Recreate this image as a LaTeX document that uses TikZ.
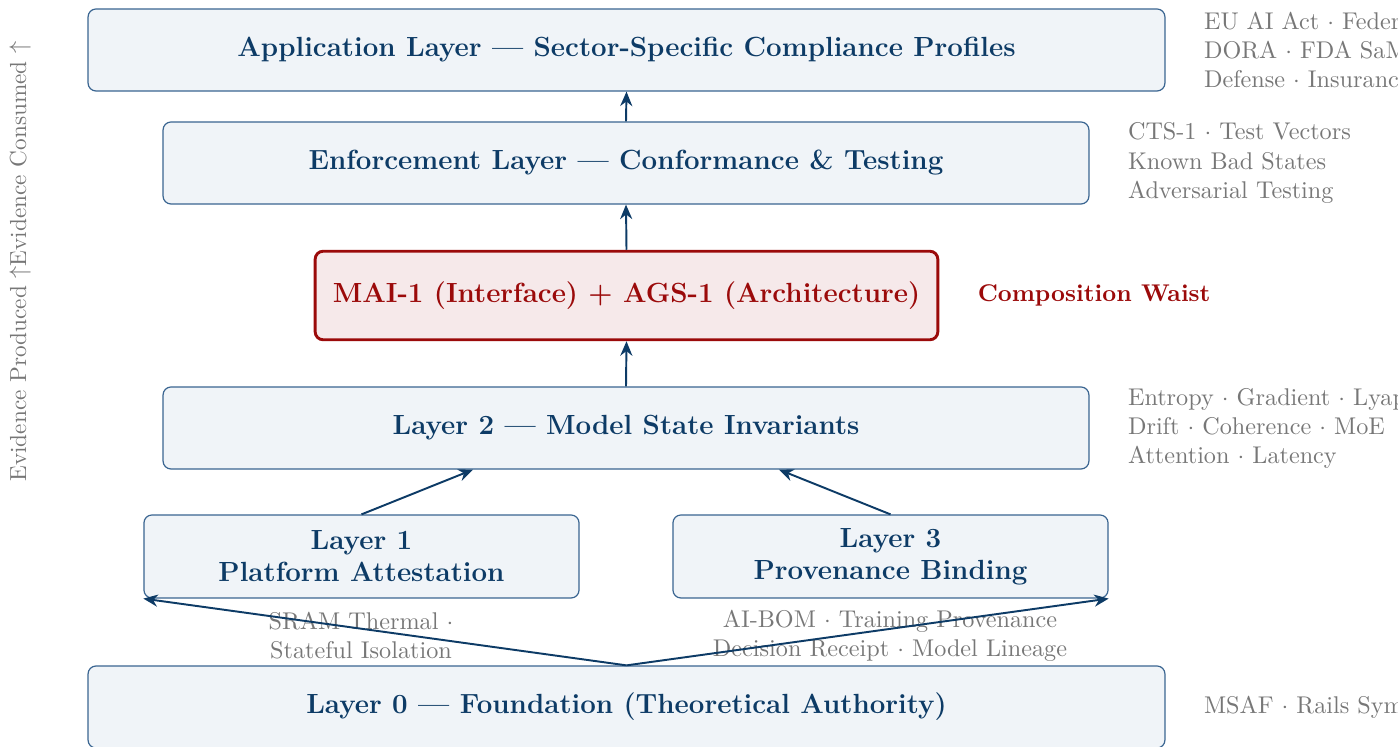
\documentclass[tikz,border=0pt]{standalone}
\usetikzlibrary{arrows.meta,calc,positioning}
\definecolor{navy}{HTML}{0D3B66}
\definecolor{boxedge}{HTML}{3A6591}
\definecolor{boxfill}{HTML}{F0F4F8}
\definecolor{waistred}{HTML}{9B0A0A}
\definecolor{waistfill}{HTML}{F6E9EA}
\definecolor{notegray}{HTML}{777777}
\newcommand{\titlefont}{\fontsize{11.45}{13.2}\selectfont\bfseries}
\tikzset{
  layerbox/.style={draw=boxedge, fill=boxfill, line width=0.5pt, rounded corners=3.3pt,
    text=navy, font=\titlefont, align=center, inner sep=0pt},
  waistbox/.style={draw=waistred, fill=waistfill, line width=1.2pt, rounded corners=3.3pt,
    text=waistred, font=\titlefont, align=center, inner sep=0pt},
  note/.style={text=notegray, align=left, anchor=west, inner sep=3.3pt},
  subnote/.style={text=notegray, align=center, inner sep=0pt},
  flow/.style={draw=navy, line width=0.8pt, -{Stealth[length=6pt,width=5pt]}},
}
\begin{document}
\begin{tikzpicture}[x=0.41322pt, y=-0.41322pt]
\useasboundingbox (0,0) rectangle (1398,747);

% layer stack
\node[layerbox, minimum width=445pt, minimum height=33.9pt] (app) at (626.5,50)
  {Application Layer --- Sector-Specific Compliance Profiles};
\node[layerbox, minimum width=382.6pt, minimum height=33.9pt] (enf) at (626,163)
  {Enforcement Layer --- Conformance \& Testing};
\node[waistbox, minimum width=257.3pt, minimum height=36.6pt] (waist) at (626.5,295.5)
  {MAI-1 (Interface) + AGS-1 (Architecture)};
\node[layerbox, minimum width=382.6pt, minimum height=33.9pt] (l2) at (626,428)
  {Layer 2 --- Model State Invariants};
\node[layerbox, minimum width=179.8pt, minimum height=34.3pt] (l1) at (361.5,556.5)
  {Layer 1\\Platform Attestation};
\node[layerbox, minimum width=179.8pt, minimum height=34.3pt] (l3) at (890.5,556.5)
  {Layer 3\\Provenance Binding};
\node[layerbox, minimum width=445pt, minimum height=33.9pt] (l0) at (626.5,707)
  {Layer 0 --- Foundation (Theoretical Authority)};

% side notes
\node[note] (appnote) at ($(app.east)+(30,0)$)
  {EU AI Act $\cdot$ Federal\\DORA $\cdot$ FDA SaMD\\Defense $\cdot$ Insurance};
\node[note] (enfnote) at ($(enf.east)+(30,0)$)
  {CTS-1 $\cdot$ Test Vectors\\Known Bad States\\Adversarial Testing};
\node[note, text=waistred, font=\bfseries] (waistnote) at ($(waist.east)+(30,0)$)
  {Composition Waist};
\node[note] (l2note) at ($(l2.east)+(30,0)$)
  {Entropy $\cdot$ Gradient $\cdot$ Lyapunov\\Drift $\cdot$ Coherence $\cdot$ MoE\\Attention $\cdot$ Latency};
\node[note] (l0note) at ($(l0.east)+(30,0)$)
  {MSAF $\cdot$ Rails Symmetry};
\node[subnote] (l1note) at (361,636)
  {SRAM Thermal $\cdot$\\Stateful Isolation};
\node[subnote] (l3note) at (890,636)
  {AI-BOM $\cdot$ Training Provenance\\Decision Receipt $\cdot$ Model Lineage};

% vertical axis caption
\node[text=notegray, rotate=90, font=\fontsize{9.6}{11.5}\selectfont] (axis) at (20,261.5)
  {Evidence Produced $\uparrow$Evidence Consumed $\uparrow$};

% connectors
\coordinate (l2left) at ($(l2.south west)!0.335!(l2.south east)$);
\coordinate (l2right) at ($(l2.south west)!0.665!(l2.south east)$);
\draw[flow] (enf.north) -- (app.south);
\draw[flow] (waist.north) -- (enf.south);
\draw[flow] (l2.north) -- (waist.south);
\draw[flow] (l1.north) -- (l2left);
\draw[flow] (l3.north) -- (l2right);
\draw[flow] (l0.north) -- (l1.south west);
\draw[flow] (l0.north) -- (l3.south east);
\end{tikzpicture}
\end{document}
